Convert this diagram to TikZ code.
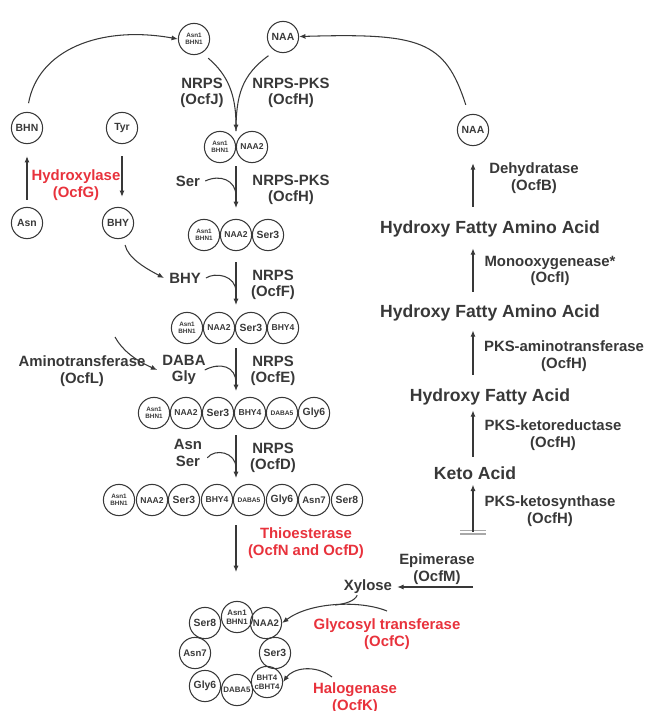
\documentclass[tikz,border=0pt]{standalone}
\usepackage{fontspec}
\setmainfont{Liberation Sans}
\usetikzlibrary{arrows.meta}
\definecolor{ink}{HTML}{383838}
\definecolor{enzred}{HTML}{E8323C}
\definecolor{bargray}{HTML}{A8A8A8}
\newcommand{\fsz}[2]{\fontsize{#1}{#2}\selectfont}
\begin{document}
\begin{tikzpicture}[x=0.025cm, y=-0.025cm, color=ink, line width=0.75pt,
  every node/.style={text=ink, font=\bfseries\fsz{10.6}{11.8}, align=center},
  res/.style={circle, draw=ink, line width=0.75pt, minimum size=0.78cm, inner sep=0pt, font=\bfseries\fsz{7.4}{8}},
  pair/.style={font=\bfseries\fsz{4.5}{5}},
  ringpair/.style={font=\bfseries\fsz{5.6}{6.2}},
  mid/.style={font=\bfseries\fsz{6.1}{7}},
  midr/.style={font=\bfseries\fsz{6.8}{7}},
  tiny/.style={font=\bfseries\fsz{4.7}{5}},
  enz/.style={text=enzred},
  big/.style={font=\bfseries\fsz{12.5}{14}},
  flow/.style={-{Latex[length=4.5pt,width=3.6pt]}}]
  \clip (0,0) rectangle (647,711);
  % starting units
  \node[res, pair] (a1t) at (194,39) {Asn1\\BHN1};
  \node[res] (naat) at (283,37) {NAA};
  \node[res] (bhn) at (27,128) {BHN};
  \node[res] (tyr) at (122,128) {Tyr};
  \node[res] (asn) at (27,223) {Asn};
  \node[res] (bhy) at (118,223) {BHY};
  \node[enz] (ocfg) at (76,185) {Hydroxylase\\(OcfG)};
  \draw[flow, shorten <=1.75mm, shorten >=3mm] (asn) -- (bhn);
  \draw[flow, shorten <=3mm, shorten >=2.5mm] (tyr.south) -- (tyr.south |- bhy.north);
  \draw[flow, shorten <=2.2mm] (bhn.north) .. controls (38,50) and (100,25) .. (a1t.west);
  \node (ocfj) at (202,93) {NRPS\\(OcfJ)};
  \node (ocfh1) at (291,93) {NRPS-PKS\\(OcfH)};
  \coordinate (j2) at (236,131);
  \draw[shorten <=2mm] (naat.-120) .. controls (242,75) and (236,95) .. (j2);
  \draw[flow, shorten <=2mm] (a1t.-60) .. controls (228,75) and (236,95) .. (j2);
  % dipeptide
  \node[res, pair] (r2a) at (220,147) {Asn1\\BHN1};
  \node[res, mid] (r2b) at (252,147) {NAA2};
  \node (ser2) at (188,181) {Ser};
  \node (ocfh2) at (291,190) {NRPS-PKS\\(OcfH)};
  \coordinate (t2) at (236,166);
  \coordinate (k2) at (236,196);
  \coordinate (b2) at (236,208);
  \draw[flow] (t2) -- (b2);
  \draw (ser2.east) .. controls (220,174) and (236,180) .. (k2);
  % tripeptide
  \node[res, pair] (r3a) at (204,235) {Asn1\\BHN1};
  \node[res, mid] (r3b) at (236,235) {NAA2};
  \node[res] (r3c) at (268,235) {Ser3};
  \node (bhyt) at (185,278) {BHY};
  \node (ocff) at (273,285) {NRPS\\(OcfF)};
  \draw[flow, shorten <=1.75mm] (bhy.-70) .. controls (128,258) and (145,268) .. (bhyt.west);
  \coordinate (t3) at (236,262);
  \coordinate (k3) at (236,292);
  \coordinate (b3) at (236,305);
  \draw[flow] (t3) -- (b3);
  \draw (bhyt.east) .. controls (215,272) and (236,275) .. (k3);
  % tetrapeptide
  \node[res, pair] (r4a) at (187,328) {Asn1\\BHN1};
  \node[res, mid] (r4b) at (219,328) {NAA2};
  \node[res] (r4c) at (251,328) {Ser3};
  \node[res, mid] (r4d) at (283,328) {BHY4};
  \node (ocfl) at (82,371) {Aminotransferase\\(OcfL)};
  \node (dg) at (184,370) {DABA\\Gly};
  \node (ocfe) at (273,371) {NRPS\\(OcfE)};
  \coordinate (l0) at (115,337);
  \draw[flow] (l0) .. controls (122,350) and (135,360) .. (dg.west);
  \coordinate (t4) at (236,348);
  \coordinate (k4) at (236,383);
  \coordinate (b4) at (236,391);
  \draw[flow] (t4) -- (b4);
  \draw ([xshift=-1.5mm]dg.east) .. controls (220,362) and (236,366) .. (k4);
  % hexapeptide
  \node[res, pair] (r5a) at (154,413) {Asn1\\BHN1};
  \node[res, mid] (r5b) at (186,413) {NAA2};
  \node[res] (r5c) at (218,413) {Ser3};
  \node[res, mid] (r5d) at (250,413) {BHY4};
  \node[res, tiny] (r5e) at (282,413) {DABA5};
  \node[res] (r5f) at (314,413) {Gly6};
  \node (as5) at (188,453) {Asn\\Ser};
  \node (ocfd) at (273,458) {NRPS\\(OcfD)};
  \coordinate (t5) at (236,435);
  \coordinate (k5) at (236,468);
  \coordinate (b5) at (236,478);
  \draw[flow] (t5) -- (b5);
  \draw ([yshift=-1.2mm]as5.east) .. controls (215,448) and (236,452) .. (k5);
  % octapeptide
  \node[res, pair] (r6a) at (119,500) {Asn1\\BHN1};
  \node[res, mid] (r6b) at (152,500) {NAA2};
  \node[res] (r6c) at (184,500) {Ser3};
  \node[res, mid] (r6d) at (217,500) {BHY4};
  \node[res, tiny] (r6e) at (249,500) {DABA5};
  \node[res] (r6f) at (282,500) {Gly6};
  \node[res, midr] (r6g) at (314,500) {Asn7};
  \node[res] (r6h) at (347,500) {Ser8};
  \node[enz] (ocfn) at (306,543) {Thioesterase\\(OcfN and OcfD)};
  \coordinate (t6) at (236,525);
  \coordinate (b6) at (236,572);
  \draw[flow] (t6) -- (b6);
  % cyclic product
  \node[res, ringpair] (g1) at (237,617) {Asn1\\BHN1};
  \node[res, midr] (g2) at (266,623) {NAA2};
  \node[res] (g3) at (275,653) {Ser3};
  \node[res, ringpair] (g4) at (267,682) {BHT4\\cBHT4};
  \node[res, ringpair] (g5) at (237,690) {DABA5};
  \node[res] (g6) at (205,686) {Gly6};
  \node[res, midr] (g7) at (195,653) {Asn7};
  \node[res] (g8) at (205,623) {Ser8};
  % tailoring
  \node (xyl) at (368,587) {Xylose};
  \node (ocfm) at (437,569) {Epimerase\\(OcfM)};
  \coordinate (epi) at (473,587);
  \draw[flow] (epi) -- (xyl);
  \node[enz] (ocfc) at (387,634) {Glycosyl transferase\\(OcfC)};
  \coordinate (gt) at (387,611);
  \coordinate (xj) at (335,605);
  \draw[flow] (gt) .. controls (360,600) and (310,602) .. (g2.east);
  \draw ([xshift=-2.7mm, yshift=1mm]xyl.south) .. controls (355,601) and (345,604) .. (xj);
  \node[enz] (ocfk) at (355,698) {Halogenase\\(OcfK)};
  \coordinate (hg) at (332,677);
  \draw[flow] (hg) .. controls (315,664) and (293,668) .. (g4.east);
  % fatty acid branch
  \node[res] (naar) at (473,130) {NAA};
  \node[big] (hfaa1) at (490,229) {Hydroxy Fatty Amino Acid};
  \node[big] (hfaa2) at (490,313) {Hydroxy Fatty Amino Acid};
  \node[big] (hfa) at (490,397) {Hydroxy Fatty Acid};
  \node[big] (keto) at (475,473) {Keto Acid};
  \coordinate (ks) at (473,532);
  \node (ocfb) at (534,178) {Dehydratase\\(OcfB)};
  \node (ocfi) at (550,271) {Monooxygenease*\\(OcfI)};
  \node (ocfh3) at (564,356) {PKS-aminotransferase\\(OcfH)};
  \node (ocfh4) at (553,435) {PKS-ketoreductase\\(OcfH)};
  \node (ocfh5) at (550,511) {PKS-ketosynthase\\(OcfH)};
  \draw[bargray, line width=1pt] ([xshift=-3.2mm, yshift=0.4mm]ks) -- ([xshift=3.2mm, yshift=0.4mm]ks)
    ([xshift=-3.2mm, yshift=-0.5mm]ks) -- ([xshift=3.2mm, yshift=-0.5mm]ks);
  \draw[flow] (ks) -- (keto.south -| ks);
  \draw[flow, shorten <=1.2mm] (keto.north -| ks) -- (hfa.south -| ks);
  \draw[flow, shorten <=2.2mm, shorten >=1mm] (hfa.north -| ks) -- (hfaa2.south -| ks);
  \draw[flow, shorten <=2mm, shorten >=1.5mm] (hfaa2.north -| ks) -- (hfaa1.south -| ks);
  \draw[flow, shorten <=2.2mm, shorten >=4.3mm] (hfaa1.north -| ks) -- (naar);
  \draw[flow, shorten <=2.5mm] (naar.105) .. controls (445,40) and (420,33) .. (naat);
\end{tikzpicture}
\end{document}
